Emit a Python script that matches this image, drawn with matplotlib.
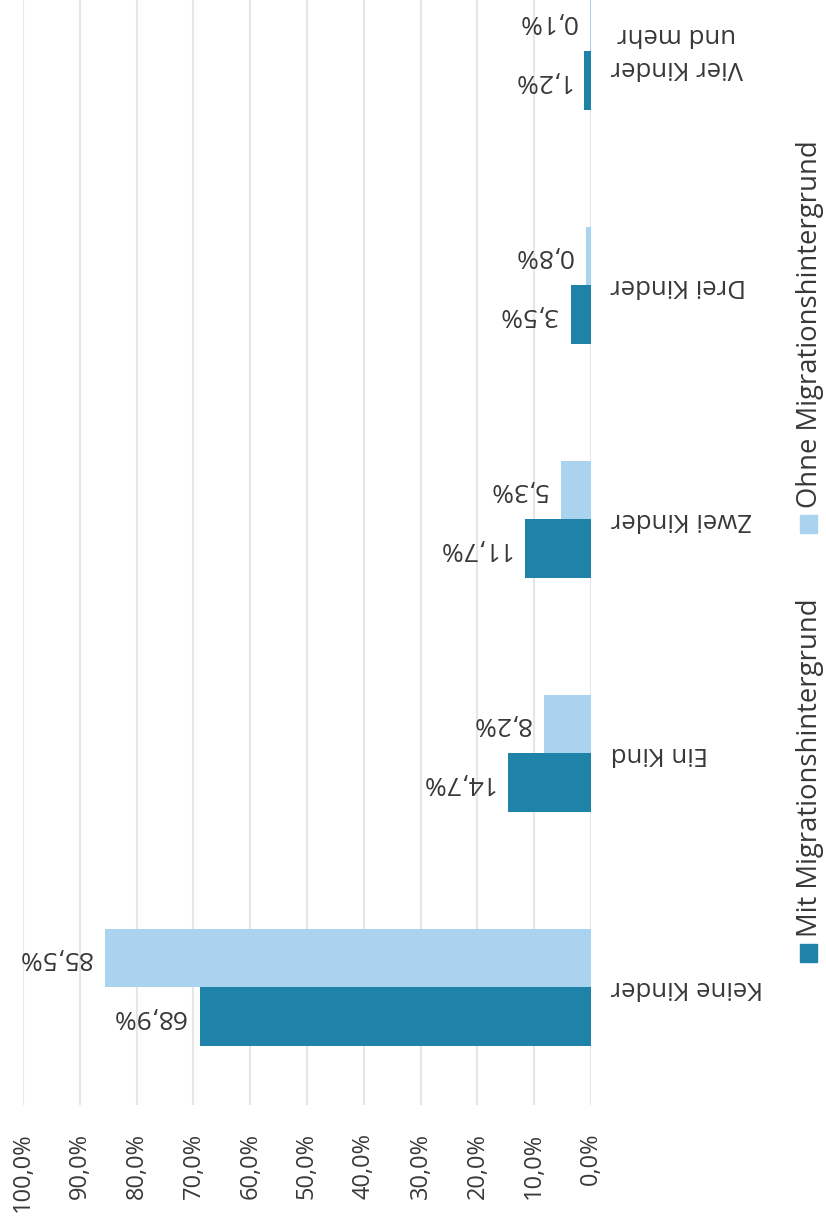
import matplotlib.pyplot as plt
from matplotlib.ticker import FuncFormatter, MultipleLocator
from matplotlib.patches import Rectangle
import numpy as np

plt.rcParams['font.family'] = ['Open Sans', 'DejaVu Sans']

# data (chart is printed rotated: bars run leftwards, text upside down)
categories = ['Keine Kinder', 'Ein Kind', 'Zwei Kinder', 'Drei Kinder', 'Vier Kinder\nund mehr']
mit = [68.9, 14.7, 11.7, 3.5, 1.2]
ohne = [85.5, 8.2, 5.3, 0.8, 0.1]
legend_labels = ['Mit Migrationshintergrund', 'Ohne Migrationshintergrund']

dark = '#1f83a9'
light = '#a9d3ee'
text_col = '#383838'

W, H = 826, 1231
fig = plt.figure(figsize=(W / 100, H / 100), dpi=100)
ax = fig.add_axes([23 / W, 1 - 1105 / H, 568 / W, 1105 / H])


def pct(v):
    return f'{v:.1f}%'.replace('.', ',')


y = np.arange(len(categories))
bh = 0.25
ax.barh(y - bh / 2, mit, height=bh, color=dark, label=legend_labels[0])
ax.barh(y + bh / 2, ohne, height=bh, color=light, label=legend_labels[1])

# value labels, upside down
for yi, v in zip(y - bh / 2, mit):
    ax.annotate(pct(v), (v, yi), xytext=(-10, 0), textcoords='offset points',
                rotation=180, ha='right', va='center', fontsize=19, color=text_col)
for yi, v in zip(y + bh / 2, ohne):
    ax.annotate(pct(v), (v, yi), xytext=(-10, 0), textcoords='offset points',
                rotation=180, ha='right', va='center', fontsize=19, color=text_col)

ax.set_xlim(100, 0)
ax.set_ylim(-0.504, 4.218)
ax.xaxis.set_major_locator(MultipleLocator(10))
ax.xaxis.set_major_formatter(FuncFormatter(lambda v, p: pct(v)))
ax.grid(axis='x', color='#e6e6e6', linewidth=1.5)
ax.set_axisbelow(True)
for s in ax.spines.values():
    s.set_visible(False)
ax.tick_params(axis='x', length=0, pad=20, labelsize=17, labelcolor=text_col, labelrotation=90)

ax.yaxis.tick_right()
ax.set_yticks(y)
ax.set_yticklabels(categories, rotation=180, va='center', ha='left', multialignment='center',
                   linespacing=1.45, fontsize=18.5, color=text_col)
ax.tick_params(axis='y', length=0, pad=14)

# legend drawn by hand, rotated like the rest of the page
for lab, col, ypx in zip(legend_labels, [dark, light], [944, 515]):
    fig.patches.append(Rectangle((800 / W, 1 - (ypx + 18) / H), 17 / W, 18 / H,
                                 transform=fig.transFigure, color=col))
    fig.text(810 / W, 1 - (ypx - 7) / H, lab, rotation=90, ha='center', va='bottom',
             fontsize=19.8, color=text_col)

plt.savefig('out.png', dpi=100)
